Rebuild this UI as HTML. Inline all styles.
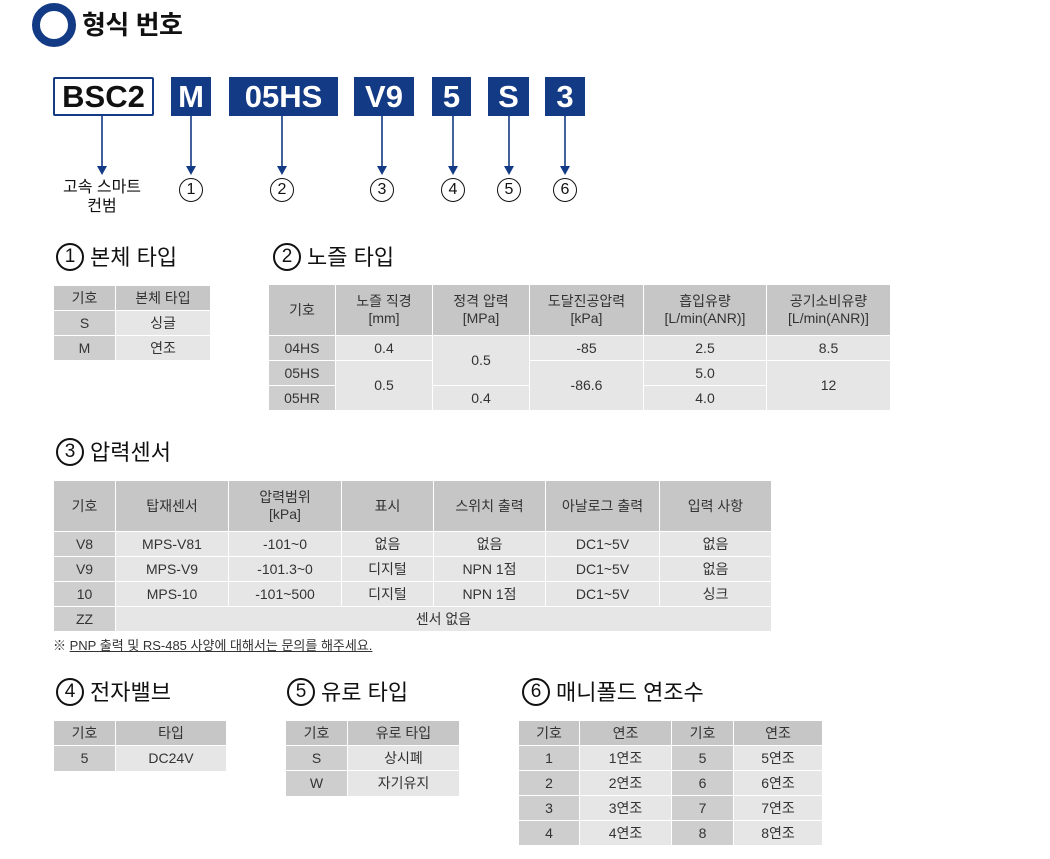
<!DOCTYPE html>
<html><head><meta charset="utf-8"><style>
*{margin:0;padding:0;box-sizing:border-box}
body{width:1050px;height:859px;background:#fff;position:relative;overflow:hidden;font-family:"Liberation Sans","Noto Sans CJK KR",sans-serif;color:#333}
.a{position:absolute}
.box{position:absolute;top:77px;height:39px;background:#133a84;color:#fff;font-weight:bold;font-size:31px;line-height:39px;text-align:center}
.cn{position:absolute;width:24px;height:24px;border:1.6px solid #111;border-radius:50%;font-size:16px;line-height:21px;text-align:center;color:#111}
.h{position:absolute;font-size:22px;color:#111;line-height:30px}
.h .c{display:inline-block;width:28px;height:28px;border:2px solid #111;border-radius:50%;text-align:center;font-size:19px;line-height:24px;vertical-align:top;margin-right:6px}
table{position:absolute;border-collapse:collapse;font-size:14px;text-align:center;color:#333}
td{border:1px solid #fff;padding:0;background:#e6e6e6;line-height:17px}
tr.hd td{background:#c6c6c6}
td.k{background:#cecece}
</style></head><body>
<div class="a" style="left:32px;top:3px;width:44px;height:44px;border:8px solid #133a84;border-radius:50%"></div>
<div class="a" style="left:82px;top:8px;font-size:26px;font-weight:bold;color:#111;line-height:34px;letter-spacing:-0.5px">형식 번호</div>

<div class="a" style="left:53px;top:77px;width:101px;height:39px;border:2px solid #133a84;border-radius:2px;font-size:31px;font-weight:bold;color:#111;text-align:center;line-height:35px">BSC2</div>
<div class="box" style="left:171px;width:40px">M</div>
<div class="box" style="left:229px;width:109px">05HS</div>
<div class="box" style="left:354px;width:60px">V9</div>
<div class="box" style="left:432px;width:39px">5</div>
<div class="box" style="left:488px;width:41px">S</div>
<div class="box" style="left:545px;width:40px">3</div>

<svg class="a" style="left:0;top:0" width="1050" height="200">
<g stroke="#133a84" stroke-width="1.6" fill="#133a84">
<line x1="102" y1="116" x2="102" y2="168"/><polygon points="97,166 107,166 102,175" stroke="none"/>
<line x1="191" y1="116" x2="191" y2="168"/><polygon points="186,166 196,166 191,175" stroke="none"/>
<line x1="282" y1="116" x2="282" y2="168"/><polygon points="277,166 287,166 282,175" stroke="none"/>
<line x1="382" y1="116" x2="382" y2="168"/><polygon points="377,166 387,166 382,175" stroke="none"/>
<line x1="453" y1="116" x2="453" y2="168"/><polygon points="448,166 458,166 453,175" stroke="none"/>
<line x1="509" y1="116" x2="509" y2="168"/><polygon points="504,166 514,166 509,175" stroke="none"/>
<line x1="565" y1="116" x2="565" y2="168"/><polygon points="560,166 570,166 565,175" stroke="none"/>
</g></svg>
<div class="a" style="left:52px;top:178px;width:100px;text-align:center;font-size:16px;line-height:19px;color:#111">고속 스마트<br>컨범</div>
<div class="cn" style="left:179px;top:178px">1</div>
<div class="cn" style="left:270px;top:178px">2</div>
<div class="cn" style="left:370px;top:178px">3</div>
<div class="cn" style="left:441px;top:178px">4</div>
<div class="cn" style="left:497px;top:178px">5</div>
<div class="cn" style="left:553px;top:178px">6</div>

<div class="h" style="left:56px;top:243px"><span class="c">1</span>본체 타입</div>
<table style="left:53px;top:285px;width:158px">
<tr class="hd" style="height:25px"><td style="width:62px">기호</td><td>본체 타입</td></tr>
<tr style="height:25px"><td class="k">S</td><td>싱글</td></tr>
<tr style="height:25px"><td class="k">M</td><td>연조</td></tr>
</table>

<div class="h" style="left:273px;top:243px"><span class="c">2</span>노즐 타입</div>
<table style="left:268px;top:284px;width:623px">
<tr class="hd" style="height:51px"><td style="width:67px">기호</td><td style="width:97px">노즐 직경<br>[mm]</td><td style="width:97px">정격 압력<br>[MPa]</td><td style="width:114px">도달진공압력<br>[kPa]</td><td style="width:123px">흡입유량<br>[L/min(ANR)]</td><td>공기소비유량<br>[L/min(ANR)]</td></tr>
<tr style="height:25px"><td class="k">04HS</td><td>0.4</td><td rowspan="2">0.5</td><td>-85</td><td>2.5</td><td>8.5</td></tr>
<tr style="height:25px"><td class="k">05HS</td><td rowspan="2">0.5</td><td rowspan="2">-86.6</td><td>5.0</td><td rowspan="2">12</td></tr>
<tr style="height:25px"><td class="k">05HR</td><td>0.4</td><td>4.0</td></tr>
</table>

<div class="h" style="left:56px;top:438px"><span class="c">3</span>압력센서</div>
<table style="left:53px;top:480px;width:719px">
<tr class="hd" style="height:51px"><td style="width:62px">기호</td><td style="width:113px">탑재센서</td><td style="width:113px">압력범위<br>[kPa]</td><td style="width:92px">표시</td><td style="width:112px">스위치 출력</td><td style="width:114px">아날로그 출력</td><td>입력 사항</td></tr>
<tr style="height:25px"><td class="k">V8</td><td>MPS-V81</td><td>-101~0</td><td>없음</td><td>없음</td><td>DC1~5V</td><td>없음</td></tr>
<tr style="height:25px"><td class="k">V9</td><td>MPS-V9</td><td>-101.3~0</td><td>디지털</td><td>NPN 1점</td><td>DC1~5V</td><td>없음</td></tr>
<tr style="height:25px"><td class="k">10</td><td>MPS-10</td><td>-101~500</td><td>디지털</td><td>NPN 1점</td><td>DC1~5V</td><td>싱크</td></tr>
<tr style="height:25px"><td class="k">ZZ</td><td colspan="6">센서 없음</td></tr>
</table>
<div class="a" style="left:53px;top:635px;font-size:13px;color:#333">※ <u>PNP 출력 및 RS-485 사양에 대해서는 문의를 해주세요.</u></div>

<div class="h" style="left:56px;top:678px"><span class="c">4</span>전자밸브</div>
<table style="left:53px;top:720px;width:174px">
<tr class="hd" style="height:25px"><td style="width:62px">기호</td><td>타입</td></tr>
<tr style="height:26px"><td class="k">5</td><td>DC24V</td></tr>
</table>

<div class="h" style="left:287px;top:678px"><span class="c">5</span>유로 타입</div>
<table style="left:285px;top:720px;width:175px">
<tr class="hd" style="height:25px"><td style="width:62px">기호</td><td>유로 타입</td></tr>
<tr style="height:25px"><td class="k">S</td><td>상시폐</td></tr>
<tr style="height:26px"><td class="k">W</td><td>자기유지</td></tr>
</table>

<div class="h" style="left:522px;top:678px"><span class="c">6</span>매니폴드 연조수</div>
<table style="left:518px;top:720px;width:305px">
<tr class="hd" style="height:25px"><td style="width:61px">기호</td><td style="width:92px">연조</td><td style="width:62px">기호</td><td>연조</td></tr>
<tr style="height:25px"><td class="k">1</td><td>1연조</td><td class="k">5</td><td>5연조</td></tr>
<tr style="height:25px"><td class="k">2</td><td>2연조</td><td class="k">6</td><td>6연조</td></tr>
<tr style="height:25px"><td class="k">3</td><td>3연조</td><td class="k">7</td><td>7연조</td></tr>
<tr style="height:25px"><td class="k">4</td><td>4연조</td><td class="k">8</td><td>8연조</td></tr>
</table>
</body></html>
